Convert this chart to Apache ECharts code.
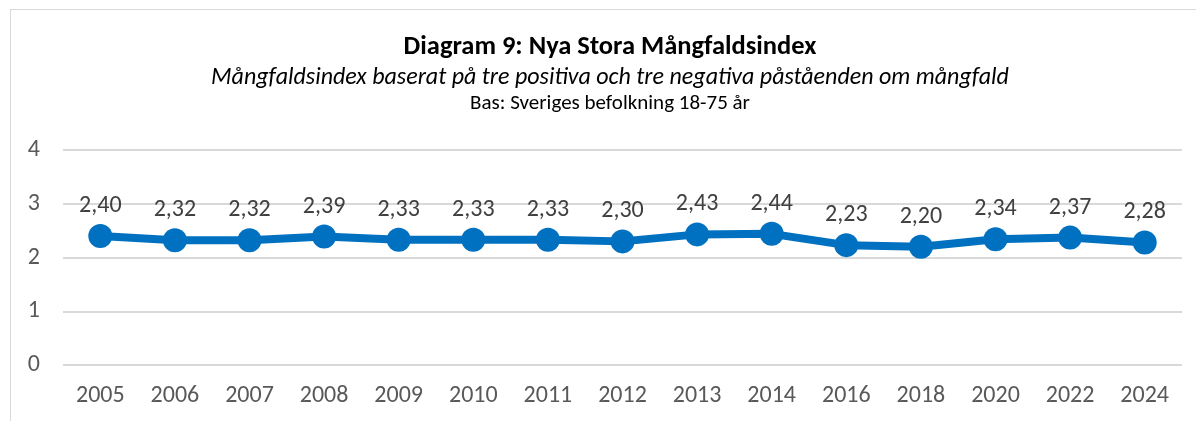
<!DOCTYPE html>
<html>
<head>
<meta charset="utf-8">
<script src="https://cdn.jsdelivr.net/npm/echarts@6/dist/echarts.min.js"></script>
<style>
  html, body { margin: 0; padding: 0; background: #fff; overflow: hidden; }
  #frame { position: absolute; left: 10px; top: 9px; width: 1200px; height: 420px; border: 1px solid #d9d9d9; }
  #main { position: absolute; left: 0; top: 0; width: 1196px; height: 421px; }
</style>
</head>
<body>
<div id="frame"></div>
<div id="main"></div>
<script>
  // Nya Stora Mångfaldsindex
  var years = ['2005', '2006', '2007', '2008', '2009', '2010', '2011', '2012', '2013', '2014', '2016', '2018', '2020', '2022', '2024'];
  var indexValues = [2.40, 2.32, 2.32, 2.39, 2.33, 2.33, 2.33, 2.30, 2.43, 2.44, 2.23, 2.20, 2.34, 2.37, 2.28];

  var font = 'Carlito, Lato, "Open Sans", sans-serif';
  var chart = echarts.init(document.getElementById('main'));
  chart.setOption({
    animation: false,
    title: [{
      text: 'Diagram 9: Nya Stora Mångfaldsindex',
      left: 605, top: 29, textAlign: 'center',
      textStyle: { fontFamily: font, fontSize: 26.5, fontWeight: 'bold', color: '#000' }
    }, {
      text: 'Mångfaldsindex baserat på tre positiva och tre negativa påståenden om mångfald',
      left: 605, top: 61, textAlign: 'center',
      textStyle: { fontFamily: font, fontSize: 24, fontStyle: 'italic', fontWeight: 'normal', color: '#000' }
    }, {
      text: 'Bas: Sveriges befolkning 18-75 år',
      left: 605, top: 88, textAlign: 'center',
      textStyle: { fontFamily: font, fontSize: 21, fontWeight: 'normal', color: '#000' }
    }],
    grid: { left: 63, right: 14, top: 150, bottom: 56 },
    xAxis: {
      type: 'category',
      data: years,
      axisLine: { show: false },
      axisTick: { show: false },
      axisLabel: { fontFamily: font, fontSize: 24, color: '#595959', margin: 19 }
    },
    yAxis: {
      type: 'value',
      min: 0, max: 4, interval: 1,
      axisLabel: { fontFamily: font, fontSize: 24, color: '#595959', margin: 23 },
      splitLine: { lineStyle: { color: '#d9d9d9', width: 2 } }
    },
    series: [{
      type: 'line',
      data: indexValues,
      symbol: 'circle',
      symbolSize: 24,
      itemStyle: { color: '#0070c0' },
      lineStyle: { color: '#0070c0', width: 8 },
      label: {
        show: true,
        position: 'top',
        distance: 6,
        fontFamily: font,
        fontSize: 24,
        color: '#404040',
        formatter: function (p) { return p.value.toFixed(2).replace('.', ','); }
      }
    }]
  });
</script>
</body>
</html>
